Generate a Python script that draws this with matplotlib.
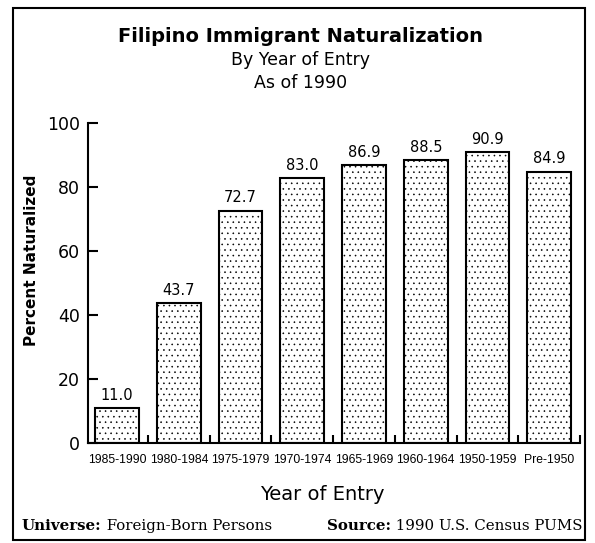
import numpy as np
import matplotlib.pyplot as plt
from matplotlib.patches import Rectangle

periods = ['1985-1990', '1980-1984', '1975-1979', '1970-1974',
           '1965-1969', '1960-1964', '1950-1959', 'Pre-1950']
pct_naturalized = [11.0, 43.7, 72.7, 83.0, 86.9, 88.5, 90.9, 84.9]
y_ticks = [0, 20, 40, 60, 80, 100]

plt.rcParams['hatch.color'] = '#b0b0b0'
plt.rcParams['hatch.linewidth'] = 0.4

fig = plt.figure(figsize=(5.95, 5.43), dpi=100)
ax = fig.add_axes([0.148, 0.184, 0.827, 0.589])

x = np.arange(len(periods))
ax.bar(x, pct_naturalized, width=0.71, color='white',
       edgecolor='black', linewidth=1.5, hatch='...')
for xi, v in zip(x, pct_naturalized):
    ax.text(xi, v + 1.6, f'{v:.1f}', ha='center', va='bottom', fontsize=10.5)

ax.set_xlim(-0.47, 7.5)
ax.set_ylim(0, 100)
ax.set_yticks(y_ticks)
ax.tick_params(axis='y', direction='in', length=7, width=1.5, labelsize=12.5, pad=6)

# boundary ticks point up, labels sit on minor ticks at bar centres
ax.set_xticks(np.arange(0.5, len(periods), 1.0))
ax.set_xticklabels([])
ax.tick_params(axis='x', which='major', direction='in', length=6, width=1.5)
ax.set_xticks(x, minor=True)
ax.set_xticklabels(periods, minor=True, fontsize=8.7, family='Liberation Sans')
ax.tick_params(axis='x', which='minor', length=0, pad=8)

for s in ['top', 'right']:
    ax.spines[s].set_visible(False)
ax.spines['left'].set_linewidth(1.5)
ax.spines['bottom'].set_linewidth(1.5)
ax.spines['left'].set_bounds(0, 100)

ax.set_ylabel('Percent Naturalized', fontsize=11, fontweight='bold')
ax.yaxis.set_label_coords(-0.10, 0.57)
ax.set_xlabel('Year of Entry', fontsize=14)
ax.xaxis.set_label_coords(0.476, -0.13)

fig.text(0.505, 0.932, 'Filipino Immigrant Naturalization', ha='center', va='center',
         fontsize=14, fontweight='bold')
fig.text(0.505, 0.889, 'By Year of Entry', ha='center', va='center', fontsize=12.5)
fig.text(0.505, 0.847, 'As of 1990', ha='center', va='center', fontsize=12.5)

# footer: bold key followed by regular text
renderer = fig.canvas.get_renderer()
foot_y = 0.032
serif = 'DejaVu Serif'
fs = 10.8
t1 = fig.text(0.037, foot_y, 'Universe:', fontsize=fs, family=serif,
              fontweight='bold', va='center')
w1 = t1.get_window_extent(renderer).width / fig.bbox.width
fig.text(0.037 + w1, foot_y, ' Foreign-Born Persons', fontsize=fs, family=serif,
         va='center')
t2 = fig.text(0.979, foot_y, ' 1990 U.S. Census PUMS', fontsize=fs, family=serif,
              va='center', ha='right')
w2 = t2.get_window_extent(renderer).width / fig.bbox.width
fig.text(0.979 - w2, foot_y, 'Source:', fontsize=fs, family=serif,
         fontweight='bold', va='center', ha='right')

fig.patches.append(Rectangle((0.022, 0.005), 0.962, 0.98, transform=fig.transFigure,
                             fill=False, edgecolor='black', linewidth=1.5))

fig.savefig('out.png', dpi=100)
